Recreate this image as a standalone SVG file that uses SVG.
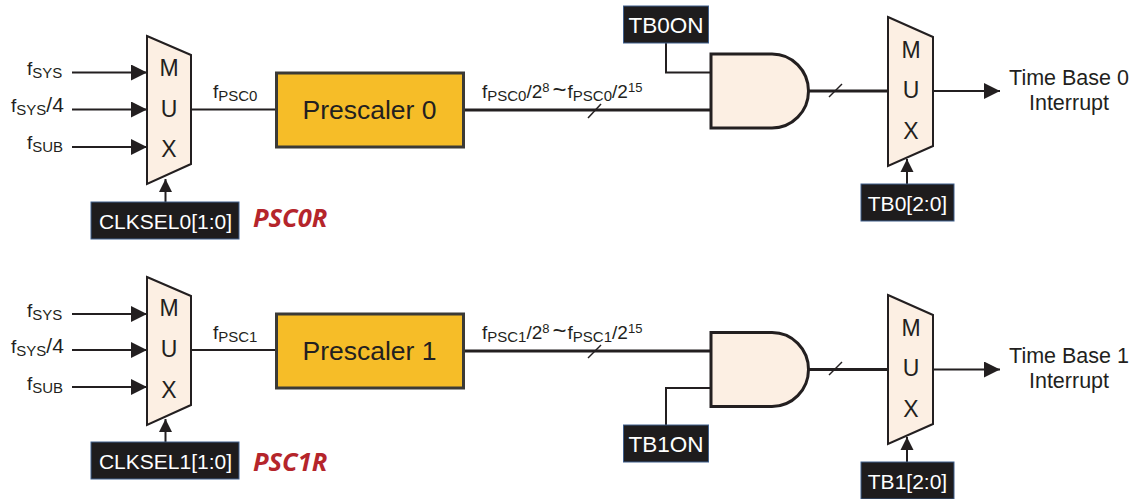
<svg xmlns="http://www.w3.org/2000/svg" width="1136" height="499" viewBox="0 0 1136 499">
<defs>
<marker id="ah" markerUnits="userSpaceOnUse" markerWidth="17" markerHeight="17" refX="16" refY="8" orient="auto"><path d="M0 0L16 8L0 16Z" fill="#231f20"/></marker>
<marker id="av" markerUnits="userSpaceOnUse" markerWidth="14" markerHeight="14" refX="13" refY="7" orient="auto"><path d="M0 0.500L13 7L0 13.500Z" fill="#231f20"/></marker>
</defs>
<style>
text{font-family:"Liberation Sans",Arial,sans-serif;fill:#231f20}
.mux{fill:#fcefe3;stroke:#231f20;stroke-width:2}
.gate{fill:#fcefe3;stroke:#231f20;stroke-width:3}
.pre{fill:#f6bd28;stroke:#3b3a36;stroke-width:3}
.ctl{fill:#1e1c1d;stroke:#3f5f8c;stroke-width:1}
.ctl-t{fill:#fff;font-size:21px;text-anchor:middle}
.on{font-size:22.500px}
.l{font-size:19px}
.s{font-size:15px}
.u{font-size:13px}
.d{font-size:21px}
.ti{font-size:24px}
.m{font-size:23px;text-anchor:middle}
.big{font-size:26.500px;text-anchor:middle}
.out{font-size:21.500px;text-anchor:middle}
.reg{font-family:"Open Sans","Liberation Sans",sans-serif;font-weight:700;font-style:italic;font-size:25.500px;fill:#b5252b}
.w{fill:none;stroke:#231f20;stroke-width:2}
.w3{fill:none;stroke:#231f20;stroke-width:3}
.t{fill:none;stroke:#231f20;stroke-width:1.5}
.a{marker-end:url(#ah)}
.v{marker-end:url(#av)}
</style>
<g id="connectors">
<path class="w a" d="M72 72.500H147"/><path class="w a" d="M72 109.500H147"/><path class="w a" d="M72 147H147"/>
<path class="w v" d="M165.500 202V179"/>
<path class="w" d="M191 109.500H276"/>
<path class="w3" d="M463 110H710"/><path class="t" d="M588 118L601 104"/>
<path class="w" d="M666 43V72.500H710"/>
<path class="w3" d="M808 91H888"/><path class="t" d="M829 97L842 84"/>
<path class="w a" d="M933 91H1000"/>
<path class="w v" d="M907 184V159"/>
<path class="w a" d="M72 314H147"/><path class="w a" d="M72 350H147"/><path class="w a" d="M72 387H147"/>
<path class="w v" d="M165.500 442V419"/>
<path class="w" d="M191 350H276"/>
<path class="w3" d="M463 351H710"/><path class="t" d="M588 358L601 345"/>
<path class="w" d="M666 425V388H710"/>
<path class="w3" d="M808 369.500H888"/><path class="t" d="M829 375L842 362"/>
<path class="w a" d="M933 369.500H1000"/>
<path class="w v" d="M907 462V437"/>
</g>

<g id="inputs0">
<text x="27" y="75" class="l">f<tspan class="s" dy="3">SYS</tspan></text>
<text x="11" y="112" class="l">f<tspan class="s" dy="3">SYS</tspan><tspan class="d" dy="-3">/4</tspan></text>
<text x="27" y="149" class="l">f<tspan class="s" dy="3">SUB</tspan></text>
</g>
<g id="mux0"><path class="mux" d="M147 36L191 55V164L147 184Z"/>
<text x="169" y="76" class="m">M</text><text x="169" y="117" class="m">U</text><text x="169" y="157" class="m">X</text></g>
<g id="clksel0"><rect class="ctl" x="91" y="202" width="148" height="37"/><text x="165.500" y="229" class="ctl-t">CLKSEL0[1:0]</text></g>
<text x="253" y="227" class="reg">PSC0R</text>
<text x="213" y="98" class="l">f<tspan class="s" dy="3">PSC0</tspan></text>
<g id="prescaler0"><rect class="pre" x="276.500" y="73" width="187" height="74"/><text x="369.500" y="119" class="big">Prescaler 0</text></g>
<text x="482" y="98" class="l">f<tspan class="s" dy="3">PSC0</tspan><tspan dy="-3">/2</tspan><tspan class="u" dy="-6">8</tspan><tspan class="ti" dy="6" dx="3">~</tspan><tspan dx="1">f</tspan><tspan class="s" dy="3">PSC0</tspan><tspan dy="-3">/2</tspan><tspan class="u" dy="-6">15</tspan></text>
<g id="tb0on"><rect class="ctl" x="623.500" y="6" width="85" height="37"/><text x="666" y="33" class="ctl-t on">TB0ON</text></g>
<g id="and0"><path class="gate" d="M711 54H772A36.500 37 0 0 1 772 128H711Z"/></g>
<g id="muxb0"><path class="mux" d="M888 17L933 37V146L888 166Z"/>
<text x="911" y="58" class="m">M</text><text x="911" y="98" class="m">U</text><text x="911" y="139" class="m">X</text></g>
<g id="tb0sel"><rect class="ctl" x="861" y="184" width="93" height="37"/><text x="907.500" y="211" class="ctl-t">TB0[2:0]</text></g>
<g id="out0"><text x="1069" y="85" class="out">Time Base 0</text><text x="1069" y="110" class="out">Interrupt</text></g>

<g id="inputs1">
<text x="27" y="317" class="l">f<tspan class="s" dy="3">SYS</tspan></text>
<text x="11" y="353" class="l">f<tspan class="s" dy="3">SYS</tspan><tspan class="d" dy="-3">/4</tspan></text>
<text x="27" y="390" class="l">f<tspan class="s" dy="3">SUB</tspan></text>
</g>
<g id="mux1"><path class="mux" d="M147 277L191 296V405L147 425Z"/>
<text x="169" y="316" class="m">M</text><text x="169" y="357" class="m">U</text><text x="169" y="398" class="m">X</text></g>
<g id="clksel1"><rect class="ctl" x="91" y="442" width="148" height="37"/><text x="165.500" y="469" class="ctl-t">CLKSEL1[1:0]</text></g>
<text x="253" y="471" class="reg">PSC1R</text>
<text x="213" y="339" class="l">f<tspan class="s" dy="3">PSC1</tspan></text>
<g id="prescaler1"><rect class="pre" x="276.500" y="314" width="187" height="74"/><text x="369.500" y="360" class="big">Prescaler 1</text></g>
<text x="482" y="339" class="l">f<tspan class="s" dy="3">PSC1</tspan><tspan dy="-3">/2</tspan><tspan class="u" dy="-6">8</tspan><tspan class="ti" dy="6" dx="3">~</tspan><tspan dx="1">f</tspan><tspan class="s" dy="3">PSC1</tspan><tspan dy="-3">/2</tspan><tspan class="u" dy="-6">15</tspan></text>
<g id="tb1on"><rect class="ctl" x="623.500" y="425" width="85" height="37"/><text x="666" y="452" class="ctl-t on">TB1ON</text></g>
<g id="and1"><path class="gate" d="M711 332.500H772A36.500 37 0 0 1 772 406.500H711Z"/></g>
<g id="muxb1"><path class="mux" d="M888 295L933 315V424L888 444Z"/>
<text x="911" y="336" class="m">M</text><text x="911" y="376" class="m">U</text><text x="911" y="417" class="m">X</text></g>
<g id="tb1sel"><rect class="ctl" x="861" y="462" width="93" height="37"/><text x="907.500" y="489" class="ctl-t">TB1[2:0]</text></g>
<g id="out1"><text x="1069" y="363" class="out">Time Base 1</text><text x="1069" y="388" class="out">Interrupt</text></g>
</svg>
